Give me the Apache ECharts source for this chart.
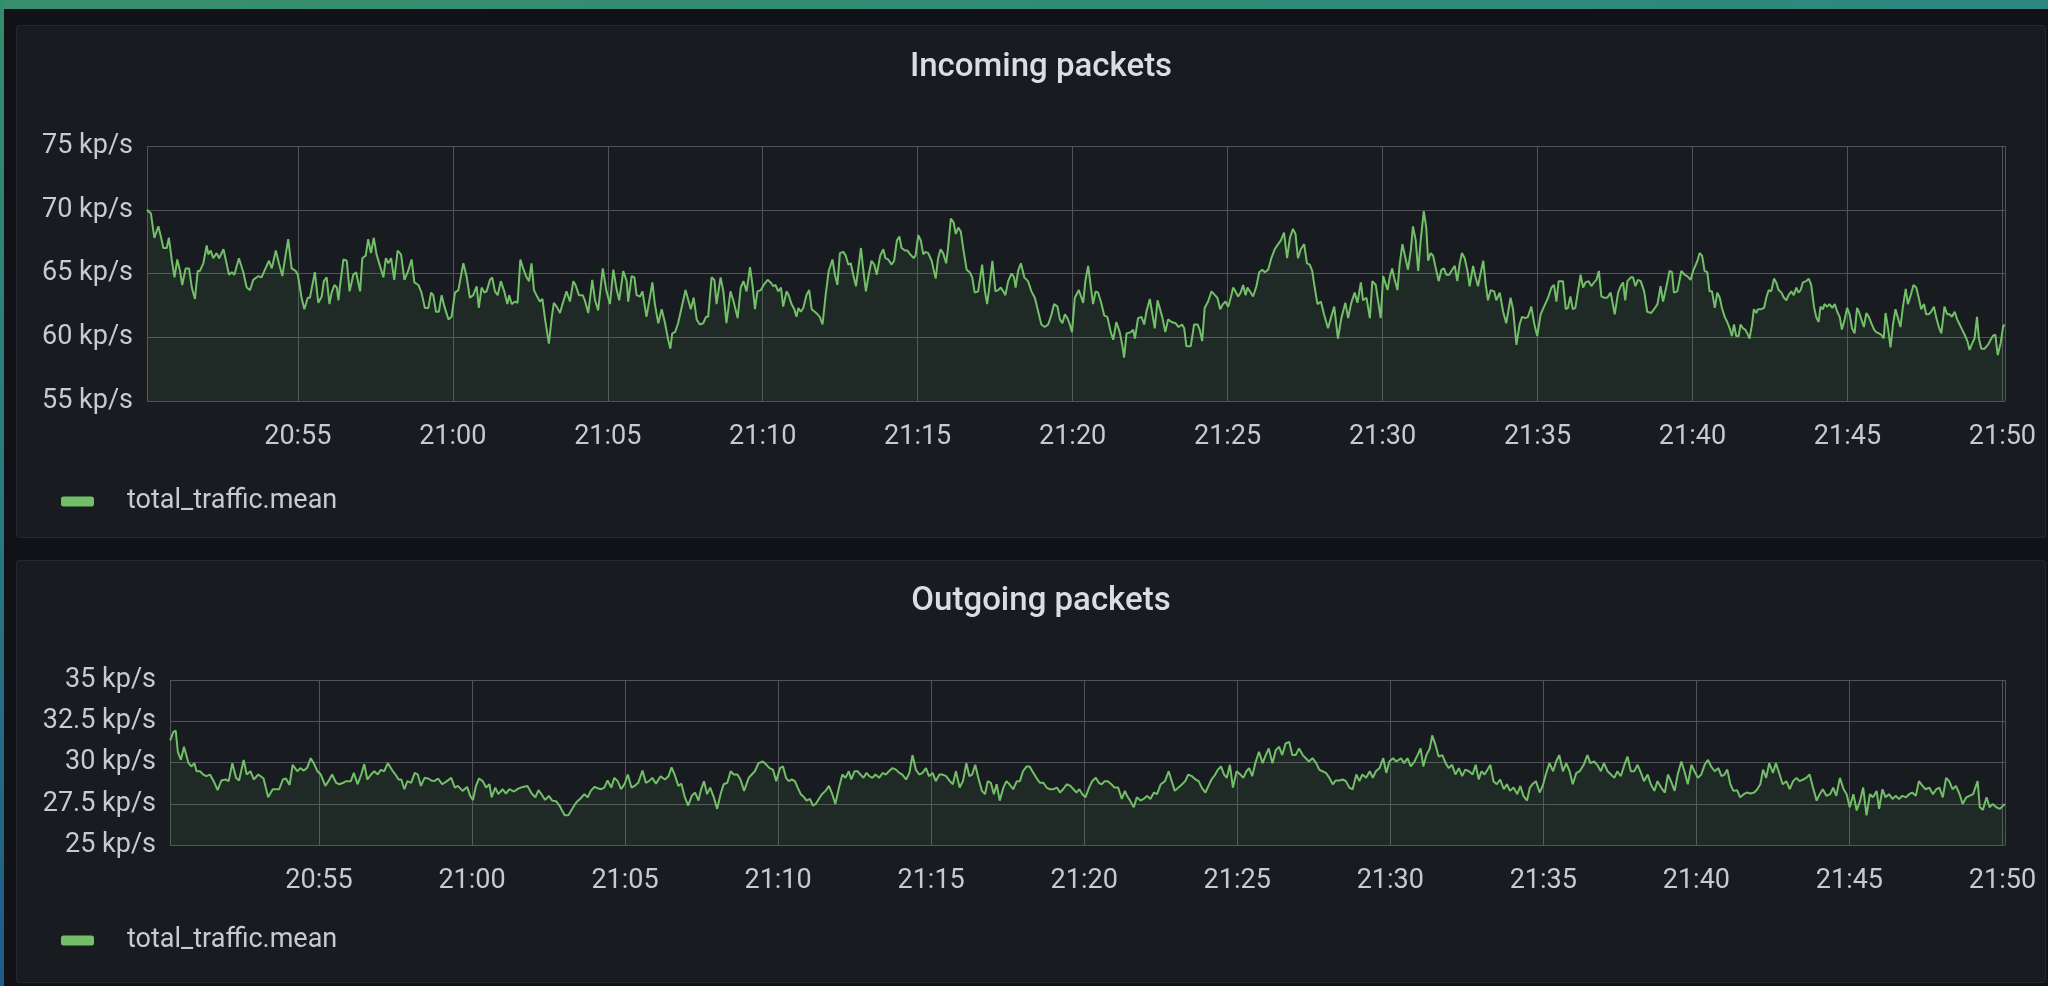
<!DOCTYPE html>
<html>
<head>
<meta charset="utf-8">
<title>Incoming / Outgoing packets</title>
<script src="https://cdn.jsdelivr.net/npm/echarts@6/dist/echarts.min.js"></script>
<style>
html, body { margin: 0; padding: 0; background: #111217; overflow: hidden; }
.strip-top { position: absolute; left: 0; top: 0; width: 2048px; height: 9px;
  background: linear-gradient(90deg, #3a8f6c, #2f8b74 55%, #2c8780); }
.strip-left { position: absolute; left: 0; top: 0; width: 4px; height: 986px;
  background: linear-gradient(180deg, #348d6c, #2a7a80 50%, #1f5b8a); }
.panel { position: absolute; left: 16px; width: 2030px; background: #181b1f;
  border: 1px solid #25282e; border-radius: 3px; box-sizing: border-box; }
#chart { position: absolute; left: 0; top: 0; width: 2048px; height: 986px; }
</style>
</head>
<body>
<div class="strip-top"></div>
<div class="strip-left"></div>
<div class="panel" style="top:25px;height:513px;"></div>
<div class="panel" style="top:560px;height:423px;"></div>
<div id="chart"></div>
<script>
var titles = ['Incoming packets', 'Outgoing packets'];
var seriesName = 'total_traffic.mean';
var inAxis = [55, 75, 5];      // min, max, step (kp/s)
var outAxis = [25, 35, 2.5];

// minutes after 20:50
var inMinutes = [
  0.13,0.26,0.37,0.50,0.59,0.66,0.77,0.84,0.93,1.02,
  1.11,1.20,1.27,1.38,1.49,1.58,1.68,1.77,1.84,1.95,
  2.06,2.11,2.19,2.27,2.38,2.46,2.60,2.70,2.78,2.87,
  2.95,3.10,3.24,3.35,3.46,3.56,3.73,3.83,3.92,4.07,
  4.16,4.29,4.39,4.50,4.59,4.69,4.80,4.93,5.00,5.12,
  5.21,5.32,5.39,5.55,5.66,5.77,5.84,5.93,6.02,6.09,
  6.18,6.26,6.31,6.36,6.47,6.58,6.67,6.79,6.88,7.01,
  7.08,7.19,7.27,7.36,7.45,7.54,7.65,7.76,7.84,7.92,
  8.01,8.11,8.22,8.33,8.44,8.56,8.67,8.76,8.89,8.99,
  9.10,9.21,9.30,9.37,9.46,9.55,9.64,9.73,9.86,9.96,
  10.07,
  10.18,10.34,10.45,10.55,10.66,10.77,10.84,10.93,11.02,11.09,
  11.20,11.27,11.36,11.45,11.55,11.66,11.76,11.82,11.90,12.01,
  12.09,12.18,12.27,12.38,12.46,12.54,12.62,12.70,12.81,12.89,
  12.99,13.10,13.19,13.26,13.35,13.46,13.54,13.67,13.78,13.89,
  13.96,14.07,14.19,14.26,14.37,14.50,14.59,14.69,14.84,14.96,
  15.07,15.18,15.29,15.37,15.50,15.61,15.66,15.77,15.86,15.93,
  16.04,16.12,16.25,16.44,16.52,16.63,16.74,16.84,16.95,17.02,
  17.08,17.17,17.27,17.38,17.51,17.60,17.68,17.77,17.87,17.97,
  18.08,18.17,18.24,18.35,18.44,18.51,18.64,18.73,18.83,18.96,
  19.05,19.19,19.29,19.38,19.48,19.59,19.67,19.75,19.83,19.94,
  20.03,
  20.16,20.26,20.34,20.41,20.50,20.59,20.66,20.77,20.84,20.93,
  21.02,21.09,21.15,21.23,21.31,21.41,21.50,21.58,21.68,21.77,
  21.84,21.93,22.03,22.13,22.25,22.33,22.41,22.49,22.60,22.68,
  22.76,22.84,22.92,23.01,23.17,23.24,23.33,23.42,23.51,23.60,
  23.68,23.79,23.89,23.96,24.05,24.16,24.24,24.33,24.41,24.48,
  24.59,24.67,24.76,24.87,24.93,25.02,25.10,25.18,25.25,25.34,
  25.45,25.58,25.66,25.74,25.82,25.92,25.98,26.07,26.16,26.23,
  26.31,26.39,26.48,26.58,26.68,26.76,26.84,26.95,27.08,27.17,
  27.24,27.31,27.41,27.51,27.60,27.68,27.76,27.83,27.92,28.03,
  28.11,28.16,28.24,28.33,28.44,28.56,28.67,28.78,28.89,28.99,
  29.10,29.21,29.32,29.40,29.51,29.59,29.67,29.75,29.83,29.91,
  29.98,30.07,
  30.20,30.34,30.41,30.50,30.59,30.66,30.74,30.82,30.91,31.02,
  31.12,31.23,31.31,31.41,31.52,31.60,31.66,31.74,31.88,31.95,
  32.01,32.11,32.22,32.31,32.38,32.49,32.56,32.65,32.74,32.81,
  32.90,32.99,33.08,33.19,33.32,33.42,33.53,33.60,33.67,33.81,
  33.92,34.03,34.10,34.18,34.26,34.37,34.48,34.59,34.67,34.76,
  34.85,34.93,35.02,35.10,35.18,35.25,35.34,35.42,35.50,35.58,
  35.64,35.72,35.82,35.93,36.02,36.12,36.20,36.31,36.41,36.52,
  36.63,36.72,36.82,36.92,37.01,37.11,37.19,37.27,37.36,37.47,
  37.56,37.65,37.73,37.81,37.90,38.01,38.11,38.24,38.33,38.44,
  38.56,38.67,38.80,38.89,38.99,39.10,39.19,39.30,39.37,39.48,
  39.59,39.67,39.78,39.86,39.94,40.02,
  40.16,40.23,40.31,40.37,40.48,40.55,40.64,40.74,40.82,40.91,
  40.98,41.07,41.15,41.23,41.33,41.41,41.47,41.55,41.63,41.70,
  41.81,41.90,41.98,42.06,42.15,42.22,42.33,42.41,42.49,42.56,
  42.65,42.74,42.81,42.92,42.99,43.08,43.17,43.25,43.33,43.40,
  43.49,43.60,43.67,43.78,43.89,43.99,44.13,44.21,44.32,44.42,
  44.50,44.61,44.69,44.80,44.89,44.99,45.10,45.21,45.34,45.45,
  45.53,45.61,45.68,45.82,45.91,45.98,46.06,46.14,46.22,46.31,
  46.39,46.47,46.55,46.65,46.74,46.82,46.90,46.98,47.06,47.14,
  47.25,47.36,47.49,47.60,47.68,47.76,47.83,47.90,48.01,48.08,
  48.16,48.24,48.33,48.44,48.54,48.67,48.76,48.87,48.97,49.05,
  49.16,49.26,49.34,49.40,49.51,49.64,49.75,49.83,49.94,50.02,
  50.16,50.23,50.31,50.39,50.48,50.55,50.63,50.72,50.80,50.88,
  50.95,51.04,51.12,51.20,51.27,51.34,51.41,51.49,51.55,51.63,
  51.70,51.77,51.84,51.92,51.98,52.06,52.11,52.22,52.31,52.38,
  52.46,52.54,52.63,52.70,52.78,52.87,52.95,53.03,53.10,53.19,
  53.27,53.35,53.42,53.49,53.56,53.67,53.75,53.83,53.92,53.99,
  54.07,54.13,54.21,54.26,54.35,54.42,54.51,54.59,54.67,54.75,
  54.82,54.91,54.99,55.07,55.15,55.23,55.31,55.37,55.45,55.53,
  55.61,55.69,55.77,55.86,55.93,56.01,56.09,56.17,56.23,56.31,
  56.39,56.47,56.55,56.63,56.71,56.79,56.88,56.95,57.04,57.13,
  57.22,57.30,57.38,57.47,57.54,57.62,57.70,57.79,57.87,57.95,
  58.03,58.13,58.22,58.30,58.37,58.46,58.54,58.62,58.70,58.78,
  58.87,58.94,59.02,59.10,59.18,59.24,59.32,59.42,59.53,59.62,
  59.69,59.77,59.85,59.94,60.02,60.06
];
var inRate = [
  70.0,69.7,67.8,68.7,67.8,67.0,67.0,67.8,66.1,64.7,
  66.1,65.2,64.1,65.4,65.4,63.9,63.0,65.2,65.2,65.8,
  67.2,66.5,66.8,66.2,66.6,66.2,66.9,65.8,64.9,65.1,
  64.9,66.2,65.1,63.9,63.7,64.5,64.8,64.7,65.2,66.0,
  65.4,66.8,65.8,64.8,66.2,67.7,65.4,65.2,64.9,63.1,
  62.2,63.1,63.1,65.1,62.7,63.2,64.4,64.7,62.6,63.5,
  64.1,63.9,62.9,64.0,66.1,66.0,63.6,64.9,65.1,63.6,
  66.2,66.4,67.7,66.6,67.8,66.5,65.6,64.7,66.2,65.8,
  66.2,64.5,66.8,66.5,64.5,65.2,66.1,64.3,64.1,63.5,
  62.3,62.3,63.5,63.3,62.0,62.0,63.3,62.4,61.4,61.6,
  63.5,
  63.7,65.8,64.7,63.1,63.3,64.0,62.3,63.9,63.5,63.6,
  64.5,64.7,63.6,63.3,64.4,63.6,62.6,63.3,62.6,62.8,
  62.7,66.1,65.4,64.7,64.4,65.8,63.7,63.3,62.8,63.0,
  61.2,59.5,61.5,62.7,62.4,61.9,62.6,63.6,62.8,64.4,
  64.1,63.3,63.3,62.9,61.9,64.5,62.9,62.1,65.4,63.6,
  62.6,65.3,63.7,62.9,65.2,64.4,62.8,64.8,64.7,63.3,
  63.2,63.6,61.6,64.3,62.6,61.1,62.2,61.2,59.8,59.1,
  60.3,60.4,61.1,62.3,63.7,62.9,62.2,63.1,61.4,61.0,
  61.1,61.6,61.6,64.7,64.5,62.6,64.7,63.6,61.1,63.6,
  62.9,61.5,63.9,64.4,63.6,65.5,64.1,62.2,63.6,63.7,
  64.1,
  64.5,64.3,64.0,64.1,63.6,63.9,62.4,63.6,63.3,62.6,
  62.2,61.6,62.3,62.0,62.3,63.3,63.7,62.2,62.0,61.8,
  61.6,61.0,63.3,65.2,66.1,64.9,64.1,66.6,66.7,66.4,
  65.7,65.8,64.9,64.0,67.0,65.4,63.6,64.9,66.0,65.7,
  64.9,66.4,66.9,66.2,66.1,65.7,66.0,67.6,67.9,67.0,
  66.8,66.8,66.5,66.2,66.4,68.0,67.6,66.5,66.7,66.6,
  66.0,64.6,66.2,66.9,66.6,65.8,67.0,69.3,69.0,68.1,
  68.6,68.3,66.8,65.3,65.1,64.7,63.5,63.6,65.7,63.6,
  62.6,63.9,66.0,63.6,63.7,63.9,63.6,63.3,64.4,65.0,
  64.7,63.9,65.2,65.8,64.7,64.4,63.6,63.1,62.0,61.0,
  60.8,61.0,61.8,62.6,62.4,61.4,61.1,61.8,61.5,61.0,
  60.4,63.1,
  63.7,62.7,64.4,65.6,63.9,62.6,63.6,63.5,62.8,61.7,
  61.6,60.4,59.8,61.2,60.4,59.4,58.4,60.3,60.4,60.6,
  59.9,61.5,61.6,61.0,62.0,63.0,62.0,60.7,62.9,62.3,
  61.5,60.4,61.4,61.2,61.1,60.8,61.0,60.7,59.3,59.3,
  61.0,61.0,60.6,59.7,62.3,62.8,63.6,63.3,63.1,62.2,
  62.6,62.8,62.4,63.1,63.9,63.6,63.2,63.5,64.1,63.3,
  63.9,63.6,63.2,64.0,65.1,65.3,65.1,65.3,66.2,66.9,
  67.3,67.6,68.2,66.2,67.8,68.5,68.1,66.2,66.9,67.3,
  65.8,65.7,65.2,63.9,62.6,62.8,61.8,60.7,61.5,62.4,
  59.9,61.5,62.7,61.5,62.7,63.5,62.7,64.3,62.9,63.1,
  61.5,64.4,64.1,62.8,61.5,64.8,
  63.7,64.7,65.4,64.7,63.7,65.7,67.3,66.2,65.3,66.8,
  68.7,67.6,65.2,67.6,69.9,68.6,66.0,66.6,66.4,65.6,
  64.4,65.3,65.4,64.9,64.9,65.2,65.6,64.4,65.8,66.6,
  66.2,65.2,64.0,65.6,64.8,64.0,65.1,66.0,64.1,62.9,
  63.7,63.6,62.9,63.5,62.0,61.1,63.1,62.2,59.4,61.0,
  61.6,61.5,61.6,62.4,61.1,60.1,61.8,62.4,63.1,63.9,
  64.1,62.8,64.4,64.4,62.2,62.3,63.2,62.2,62.3,63.7,
  64.9,63.9,64.3,64.4,64.0,64.3,64.5,65.2,63.2,63.1,
  63.1,63.5,61.8,63.5,64.0,64.3,62.9,64.4,64.7,64.7,
  64.0,64.5,64.4,63.6,62.0,61.9,62.2,62.6,64.0,62.8,
  64.0,65.2,65.1,63.5,63.6,65.2,64.9,64.8,64.5,65.2,
  66.0,66.6,66.4,65.2,65.1,63.6,63.6,62.3,63.5,63.1,
  62.3,61.6,61.2,60.7,60.1,61.0,60.1,60.1,61.0,60.7,
  60.6,60.3,59.9,61.0,62.2,61.9,62.2,62.2,62.3,63.1,
  63.7,63.6,64.6,64.3,63.7,63.5,63.1,62.9,63.3,63.6,
  63.3,63.9,63.5,63.7,64.3,64.4,64.6,64.1,62.4,61.6,
  61.2,62.4,62.2,62.6,62.4,62.6,62.3,62.6,62.0,61.6,
  60.6,61.4,62.3,61.8,60.7,60.3,62.3,62.0,61.4,60.8,
  61.9,61.6,61.1,60.6,60.4,60.3,60.2,59.9,61.9,60.7,
  59.2,61.0,62.2,61.5,60.8,62.4,63.8,62.6,63.3,64.1,
  63.9,63.1,62.2,62.6,61.8,61.8,62.0,62.4,61.5,60.8,
  60.3,62.4,61.8,61.8,61.6,62.0,61.4,61.0,60.6,60.2,
  59.7,59.0,59.5,59.9,61.6,59.9,59.1,59.1,59.4,59.8,
  60.1,60.2,58.6,59.5,60.8,61.0
];

var outMinutes = [
  0.14,0.24,0.32,0.39,0.49,0.59,0.65,0.74,0.83,0.93,
  1.00,1.11,1.22,1.32,1.44,1.56,1.69,1.81,1.95,2.05,
  2.17,2.29,2.39,2.54,2.64,2.76,2.87,3.02,3.19,3.34,
  3.49,3.60,3.70,3.82,3.92,4.04,4.14,4.29,4.39,4.51,
  4.62,4.73,4.83,4.95,5.06,5.21,5.31,5.43,5.56,5.67,
  5.79,5.89,6.04,6.14,6.26,6.38,6.48,6.58,6.70,6.81,
  6.92,7.02,7.13,7.25,7.40,7.50,7.60,7.69,7.79,7.89,
  8.01,8.13,8.23,8.33,8.45,8.57,8.67,8.77,8.89,9.03,
  9.18,9.32,9.44,9.54,9.69,9.84,9.94,10.03,10.13,10.23,
  10.35,10.46,10.57,10.64,10.76,10.86,11.00,11.11,11.22,11.37,
  11.51,11.66,11.81,11.95,12.07,12.17,12.27,12.39,12.51,12.62,
  12.75,12.86,12.94,13.03,13.15,13.24,13.34,13.41,13.56,13.67,
  13.78,13.88,14.00,14.11,14.22,14.32,14.43,14.55,14.65,14.76,
  14.87,14.99,15.09,15.21,15.31,15.43,15.57,15.68,15.78,15.89,
  16.01,16.16,16.30,16.42,16.52,16.62,16.74,16.84,16.94,17.06,
  17.18,17.29,17.40,17.47,
  17.58,17.68,17.78,17.90,18.01,18.12,18.22,18.34,18.45,18.55,
  18.67,18.77,18.89,19.04,19.14,19.24,19.36,19.50,19.62,19.72,
  19.83,19.94,20.06,20.16,20.26,20.35,20.45,20.55,20.64,20.74,
  20.85,20.93,21.04,21.14,21.23,21.33,21.43,21.55,21.66,21.77,
  21.87,21.99,22.10,22.20,22.31,22.39,22.50,22.60,22.69,22.79,
  22.89,22.98,23.08,23.18,23.30,23.42,23.52,23.62,23.74,23.85,
  23.96,24.06,24.18,24.29,24.39,24.50,24.61,24.72,24.83,24.93,
  25.05,25.15,25.27,25.37,25.49,25.61,25.71,25.81,25.93,26.04,
  26.15,26.25,26.34,26.44,26.54,26.66,26.76,26.85,26.95,27.05,
  27.14,27.24,27.36,27.46,27.56,27.68,27.80,27.90,28.00,28.12,
  28.22,28.34,28.44,28.55,28.67,28.77,28.88,28.99,29.11,29.21,
  29.31,29.43,29.55,29.65,29.75,29.84,29.94,30.04,30.16,30.26,
  30.38,30.48,30.57,30.67,30.77,30.89,30.99,31.11,31.23,31.33,
  31.40,31.50,31.62,31.72,31.84,31.94,32.06,32.16,32.28,32.38,
  32.50,32.64,32.76,32.86,32.96,33.08,33.20,33.30,33.40,33.52,
  33.64,33.74,33.84,33.96,34.06,34.16,34.28,34.37,34.47,34.57,
  34.66,34.76,34.86,34.98,35.10,35.20,35.30,35.39,35.49,35.59,
  35.71,35.83,35.93,36.03,36.15,36.26,36.37,36.47,36.58,36.70,
  36.80,36.91,37.02,37.14,37.24,37.34,37.46,37.58,37.68,37.78,
  37.90,38.01,38.12,38.22,38.34,38.45,38.55,38.66,38.77,38.89,
  38.99,39.09,39.21,39.33,39.43,39.53,39.65,39.77,39.87,39.97,
  40.09,40.20,40.35,
  40.45,40.56,40.67,40.79,40.89,40.99,41.08,41.18,41.29,41.37,
  41.48,41.58,41.70,41.81,41.91,42.02,42.13,42.24,42.35,42.45,
  42.57,42.69,42.79,42.89,42.98,43.08,43.18,43.27,43.37,43.48,
  43.59,43.71,43.81,43.91,44.03,44.15,44.25,44.35,44.47,44.56,
  44.64,44.76,44.88,44.98,45.08,45.20,45.32,45.42,45.52,45.64,
  45.75,45.86,45.96,46.08,46.19,46.32,46.44,46.54,46.66,46.76,
  46.88,46.98,47.10,47.21,47.32,47.42,47.53,47.65,47.75,47.86,
  47.97,48.08,48.19,48.29,48.41,48.51,48.63,48.73,48.85,48.97,
  49.07,49.17,49.29,49.39,49.51,49.61,49.72,49.84,49.94,50.05,
  50.16,50.27,50.38,50.48,50.60,50.72,50.82,50.92,51.01,51.11,
  51.21,51.33,51.43,51.55,51.65,51.77,51.89,51.99,52.09,52.18,
  52.28,52.38,52.50,52.60,52.72,52.82,52.94,53.05,53.16,53.27,
  53.37,53.49,53.59,53.70,53.81,53.93,54.03,54.13,54.25,54.37,
  54.47,54.57,54.69,54.81,54.91,55.01,55.13,55.24,55.35,55.45,
  55.56,55.67,55.77,55.89,55.97,56.08,56.18,56.29,56.41,56.51,
  56.62,56.73,56.85,56.95,57.05,57.17,57.27,57.39,57.49,57.61,
  57.73,57.84,57.94,58.05,58.16,58.26,58.37,58.48,58.60,58.70,
  58.82,58.92,59.04,59.19,59.26,59.36,59.48,59.58,59.68,59.80,
  59.92,60.02,60.08
];
var outRate = [
  31.34,31.84,31.94,30.65,30.16,30.95,31.05,29.96,29.76,29.96,
  29.47,29.47,29.27,29.17,29.27,28.87,28.32,28.91,28.97,28.87,
  29.96,29.07,28.91,30.16,29.27,29.47,28.97,29.27,29.03,27.89,
  28.38,28.38,28.38,28.97,29.03,28.64,29.86,29.47,29.66,29.51,
  29.70,30.26,29.96,29.47,29.27,28.58,28.87,29.27,28.77,28.68,
  28.77,28.87,28.87,29.37,28.68,29.27,29.90,28.97,29.27,29.47,
  29.27,29.55,29.47,29.96,29.51,29.27,28.97,28.97,28.38,28.87,
  28.77,29.37,29.27,28.58,29.07,29.03,28.91,28.87,29.03,28.68,
  28.87,29.07,28.48,28.58,28.28,28.52,27.98,27.73,28.58,29.03,
  28.87,28.48,28.68,27.89,28.48,28.08,28.38,28.12,28.38,28.24,
  28.42,28.52,28.58,28.12,27.89,28.32,28.08,27.73,27.98,27.69,
  27.65,27.39,27.09,26.80,26.80,27.09,27.39,27.59,27.85,28.08,
  27.89,28.28,28.52,28.44,28.38,28.48,28.91,28.48,29.07,28.87,
  28.38,28.72,29.27,28.48,28.58,28.77,29.51,28.77,28.87,29.07,
  28.72,29.17,28.97,29.17,29.70,29.27,28.58,28.72,27.98,27.39,
  27.98,28.18,27.69,28.28,
  28.87,28.08,28.48,27.89,27.19,28.08,28.68,28.77,29.47,29.27,
  29.27,28.97,28.28,29.07,29.27,29.47,29.96,30.06,29.86,29.66,
  29.57,28.87,29.66,29.76,29.07,28.87,28.97,28.87,28.48,28.08,
  27.89,27.69,27.79,27.39,27.49,27.79,28.08,28.28,28.58,28.08,
  27.49,28.48,29.27,29.07,29.47,28.97,29.47,29.47,29.27,29.07,
  29.37,29.17,29.07,29.27,29.07,29.37,29.27,29.47,29.66,29.57,
  29.37,29.27,28.97,29.37,30.45,29.57,29.27,29.37,29.66,29.17,
  29.37,28.87,29.27,29.27,29.17,28.87,28.68,29.47,28.48,28.87,
  29.96,29.17,29.27,29.86,29.07,28.28,28.08,28.87,28.77,28.08,
  28.68,27.69,28.48,28.87,28.68,28.38,28.87,28.87,29.47,29.76,
  29.76,29.37,29.07,28.77,28.77,28.48,28.38,28.38,28.48,28.18,
  28.38,28.68,28.58,28.38,28.18,28.38,28.08,27.89,28.48,28.87,
  29.07,28.77,28.68,28.87,28.87,28.68,28.48,28.48,27.79,28.28,
  27.98,27.69,27.29,27.89,27.69,27.79,27.98,27.79,28.18,28.08,
  28.68,28.87,29.47,28.87,28.28,28.48,28.68,28.87,29.27,29.17,
  28.97,28.87,28.48,28.18,28.58,28.97,29.27,29.57,29.76,29.27,
  29.07,29.86,28.48,29.47,29.27,29.07,29.47,29.66,29.17,29.96,
  30.65,29.96,30.45,30.85,29.96,30.75,30.95,30.45,31.15,31.25,
  30.45,30.45,30.85,30.45,30.26,30.06,30.26,29.96,29.57,29.47,
  29.37,29.07,28.68,28.91,28.91,28.97,28.87,28.48,28.38,29.27,
  28.87,29.27,29.07,29.47,29.07,29.47,29.66,30.26,29.37,30.06,
  30.26,30.06,30.26,
  29.96,30.26,29.76,30.06,30.45,30.85,29.76,30.45,30.85,31.64,
  31.05,30.36,30.45,29.96,29.66,29.86,29.27,29.66,29.17,29.57,
  29.47,29.27,29.86,28.97,29.47,29.27,29.57,29.86,28.87,28.68,
  28.97,28.38,28.68,28.28,28.48,28.08,28.58,27.98,27.69,28.48,
  28.68,28.87,28.18,28.58,29.27,29.96,29.47,30.06,30.45,29.47,
  29.96,29.47,28.68,29.37,29.47,29.86,30.45,29.96,30.06,29.86,
  29.47,29.96,29.47,29.27,29.07,29.47,29.17,29.86,30.36,29.47,
  29.47,29.86,29.37,28.87,29.27,28.68,28.28,28.87,28.48,28.18,
  29.27,28.87,28.28,29.27,30.06,29.47,28.68,29.86,29.47,29.07,
  29.27,29.86,30.16,29.76,29.47,29.66,29.17,29.27,29.57,28.68,
  28.28,28.32,27.89,28.08,28.18,28.12,28.18,28.38,28.68,29.57,
  29.07,29.96,29.37,29.96,29.27,28.68,28.87,28.38,28.87,29.07,
  28.87,28.97,29.07,29.27,28.48,27.69,28.08,28.38,27.98,28.08,
  28.48,27.98,29.07,28.38,28.08,27.29,28.08,27.09,27.69,28.48,
  26.80,28.08,27.89,28.28,27.19,28.38,27.89,28.08,27.79,27.98,
  27.79,27.98,27.89,28.08,28.18,27.98,28.87,28.58,28.38,28.48,
  28.08,28.38,28.48,27.89,29.07,28.87,28.38,28.58,28.08,27.49,
  27.89,27.98,28.08,28.87,27.29,27.13,27.89,27.29,27.49,27.29,
  27.19,27.39,27.49
];

var startTime = new Date(2024, 0, 1, 20, 50, 0).getTime();
var xMin = startTime + 8 * 1000;
var xMax = startTime + 60 * 60000 + 5 * 1000;

function toPoints(minutes, values) {
  return minutes.map(function (m, i) {
    return [startTime + Math.round(m * 60000), values[i]];
  });
}

function pad(n) { return n < 10 ? '0' + n : '' + n; }

var green = '#73bf69';
var gridColor = '#505358';
var textColor = '#c9cad0';
var fontFamily = 'Roboto, "Noto Sans", sans-serif';

function xAxisFor(i) {
  return {
    type: 'time',
    gridIndex: i,
    min: xMin,
    max: xMax,
    splitNumber: 10,
    minInterval: 6 * 60000,
    maxInterval: 6 * 60000,
    axisLine: { show: false },
    axisTick: { show: false },
    splitLine: { show: true, lineStyle: { color: gridColor, width: 1 } },
    axisLabel: {
      color: textColor,
      fontSize: 27,
      fontFamily: fontFamily,
      margin: 23,
      hideOverlap: false,
      formatter: function (v) {
        var d = new Date(v);
        return pad(d.getHours()) + ':' + pad(d.getMinutes());
      }
    }
  };
}

function yAxisFor(i, range) {
  return {
    type: 'value',
    gridIndex: i,
    min: range[0],
    max: range[1],
    interval: range[2],
    axisLine: { show: false },
    axisTick: { show: false },
    splitLine: { show: true, lineStyle: { color: gridColor, width: 1 } },
    axisLabel: {
      color: textColor,
      fontSize: 27,
      fontFamily: fontFamily,
      margin: 14,
      formatter: '{value} kp/s'
    }
  };
}

function legendFor(top) {
  return {
    data: [seriesName],
    left: 56,
    top: top,
    icon: 'roundRect',
    itemWidth: 33,
    itemHeight: 10,
    selectedMode: false,
    textStyle: {
      color: textColor,
      fontSize: 27,
      fontFamily: fontFamily,
      padding: [0, 0, 0, 28]
    }
  };
}

function seriesFor(i, data) {
  return {
    name: seriesName,
    type: 'line',
    xAxisIndex: i,
    yAxisIndex: i,
    data: data,
    showSymbol: false,
    symbol: 'none',
    itemStyle: { color: green },
    lineStyle: { color: green, width: 2 },
    areaStyle: { color: green, opacity: 0.09 }
  };
}

var chart = echarts.init(document.getElementById('chart'));
chart.setOption({
  backgroundColor: 'transparent',
  animation: false,
  title: [
    { text: titles[0], left: 1036, top: 46, textAlign: 'center',
      textStyle: { color: '#dcdde2', fontSize: 33, fontWeight: 500, fontFamily: fontFamily } },
    { text: titles[1], left: 1036, top: 580, textAlign: 'center',
      textStyle: { color: '#dcdde2', fontSize: 33, fontWeight: 500, fontFamily: fontFamily } }
  ],
  legend: [legendFor(483), legendFor(922)],
  grid: [
    { left: 147, top: 146, width: 1858, height: 255, outerBoundsMode: 'none' },
    { left: 170, top: 680, width: 1835, height: 165, outerBoundsMode: 'none' }
  ],
  xAxis: [xAxisFor(0), xAxisFor(1)],
  yAxis: [yAxisFor(0, inAxis), yAxisFor(1, outAxis)],
  series: [
    seriesFor(0, toPoints(inMinutes, inRate)),
    seriesFor(1, toPoints(outMinutes, outRate))
  ]
});
</script>
</body>
</html>
